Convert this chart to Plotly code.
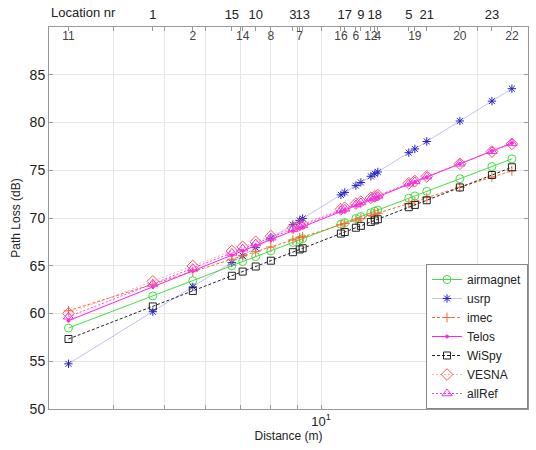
import plotly.graph_objects as go
import math

# Location numbers (ordered by distance) and distances in metres
locations = [11, 1, 2, 15, 14, 10, 8, 3, 7, 13, 16, 17, 6, 9, 12, 18, 4, 5, 19, 21, 20, 23, 22]
distance = [3.27, 4.75, 5.67, 6.74, 7.07, 7.49, 8.01, 8.83, 9.10, 9.22, 10.92, 11.11, 11.67,
            11.93, 12.47, 12.69, 12.86, 14.75, 15.15, 15.97, 18.49, 21.31, 23.28]

airmagnet = [58.48, 61.84, 63.44, 65.00, 65.44, 65.96, 66.56, 67.44, 67.72, 67.84, 69.35, 69.51,
             69.95, 70.15, 70.55, 70.71, 70.83, 72.07, 72.31, 72.79, 74.11, 75.39, 76.19]
usrp = [54.73, 60.19, 62.79, 65.33, 66.05, 66.89, 67.87, 69.30, 69.75, 69.95, 72.42, 72.68,
        73.39, 73.72, 74.37, 74.63, 74.82, 76.84, 77.23, 78.01, 80.16, 82.24, 83.54]
imec = [60.28, 63.06, 64.38, 65.68, 66.04, 66.47, 66.97, 67.69, 67.93, 68.03, 69.28, 69.42,
        69.78, 69.95, 70.28, 70.41, 70.51, 71.53, 71.73, 72.13, 73.22, 74.28, 74.94]
telos = [59.25, 62.78, 64.46, 66.09, 66.56, 67.10, 67.73, 68.66, 68.95, 69.08, 70.67, 70.84,
         71.30, 71.51, 71.93, 72.10, 72.23, 73.53, 73.78, 74.28, 75.67, 77.01, 77.85]
wispy = [57.33, 60.74, 62.36, 63.95, 64.39, 64.92, 65.53, 66.42, 66.71, 66.83, 68.37, 68.53,
         68.98, 69.18, 69.59, 69.75, 69.87, 71.13, 71.37, 71.86, 73.20, 74.50, 75.31]
vesna = [60.00, 63.37, 64.97, 66.54, 66.98, 67.50, 68.10, 68.98, 69.26, 69.38, 70.91, 71.07,
         71.51, 71.71, 72.11, 72.27, 72.39, 73.63, 73.87, 74.36, 75.68, 76.96, 77.76]
allref = [59.66, 63.10, 64.74, 66.34, 66.79, 67.32, 67.94, 68.84, 69.12, 69.25, 70.80, 70.97,
          71.42, 71.62, 72.03, 72.20, 72.32, 73.59, 73.84, 74.33, 75.68, 76.99, 77.81]

x_tickvals = [3, 4, 5, 6, 7, 8, 9, 10, 20]
x_ticktext = ["", "", "", "", "", "", "", "10<sup>1</sup>", ""]
y_tickvals = [50, 55, 60, 65, 70, 75, 80, 85, 90]

FONT = "Liberation Sans, Arial, sans-serif"

series = [
    ("airmagnet", airmagnet, dict(color="#44dd44", width=1), dict(symbol="circle-open", size=8, color="#44dd44")),
    ("usrp", usrp, dict(color="rgba(120,120,235,0.45)", width=1), dict(symbol="asterisk-open", size=7, color="#2222cc")),
    ("imec", imec, dict(color="#ff6633", width=1, dash="3px,2px"), dict(symbol="cross-thin-open", size=7, color="#ff6633")),
    ("Telos", telos, dict(color="#ff22ee", width=1), dict(symbol="circle", size=3, color="#ff22ee")),
    ("WiSpy", wispy, dict(color="#222222", width=1, dash="3px,2px"), dict(symbol="square-open", size=7, color="#222222")),
    ("VESNA", vesna, dict(color="rgba(255,100,100,0.5)", width=1, dash="2px,2px"), dict(symbol="diamond-open", size=9, color="#ff5555")),
    ("allRef", allref, dict(color="#ee44ee", width=1, dash="2px,2px"), dict(symbol="triangle-up-open", size=9, color="#ee33ee")),
]

fig = go.Figure()
for name, vals, line, marker in series:
    fig.add_trace(go.Scatter(x=distance, y=vals, name=name, mode="lines+markers",
                             line=line, marker=dict(line=dict(width=1, color=marker["color"]), **marker)))

above_idx = list(range(1, len(locations), 2))
below_idx = list(range(0, len(locations), 2))

# invisible traces to activate the top axes
fig.add_trace(go.Scatter(x=[distance[0]], y=[None], xaxis="x2", showlegend=False, hoverinfo="skip"))
fig.add_trace(go.Scatter(x=[distance[0]], y=[None], xaxis="x3", showlegend=False, hoverinfo="skip"))

xr = [math.log10(3), math.log10(25)]

fig.update_layout(
    width=536, height=450,
    margin=dict(l=49, r=7, t=25, b=41),
    paper_bgcolor="white", plot_bgcolor="white",
    font=dict(family=FONT, size=12, color="#222222"),
    xaxis=dict(type="log", range=xr, tickvals=x_tickvals, ticktext=x_ticktext,
               showgrid=True, gridcolor="#e6e6e6", gridwidth=1,
               ticks="inside", ticklen=4, tickcolor="#999999",
               showline=True, linecolor="#999999", linewidth=1, mirror="ticks",
               zeroline=False, title=dict(text="Distance (m)", standoff=4, font=dict(size=12)),
               tickfont=dict(size=13)),
    yaxis=dict(range=[50, 90], tickvals=y_tickvals,
               showgrid=True, gridcolor="#e6e6e6", gridwidth=1,
               ticks="inside", ticklen=4, tickcolor="#999999",
               showline=True, linecolor="#999999", linewidth=1, mirror="ticks",
               zeroline=False, title=dict(text="Path Loss (dB)", standoff=6, font=dict(size=12)),
               tickfont=dict(size=14)),
    xaxis2=dict(type="log", range=xr, overlaying="x", side="top", anchor="y",
                tickvals=[distance[i] for i in above_idx],
                ticktext=[str(locations[i]) for i in above_idx],
                ticks="inside", ticklen=4, tickcolor="#999999", tickangle=0,
                ticklabelstandoff=4,
                showgrid=False, showline=False, zeroline=False, tickfont=dict(size=13)),
    xaxis3=dict(type="log", range=xr, overlaying="x", side="top", anchor="y",
                tickvals=[distance[i] for i in below_idx],
                ticktext=[str(locations[i]) for i in below_idx],
                ticks="inside", ticklen=4, tickcolor="#999999", ticklabelposition="inside",
                tickangle=0,
                showgrid=False, showline=False, zeroline=False, tickfont=dict(size=12)),
    legend=dict(x=1, y=0, xanchor="right", yanchor="bottom", bgcolor="white",
                bordercolor="#888888", borderwidth=1, font=dict(size=12),
                tracegroupgap=0, itemwidth=30),
    showlegend=True,
)

fig.add_annotation(text="Location nr", xref="paper", yref="paper", x=0, y=1,
                   xanchor="left", yanchor="bottom", yshift=5, showarrow=False,
                   font=dict(size=13))

fig.write_html("out.html")
